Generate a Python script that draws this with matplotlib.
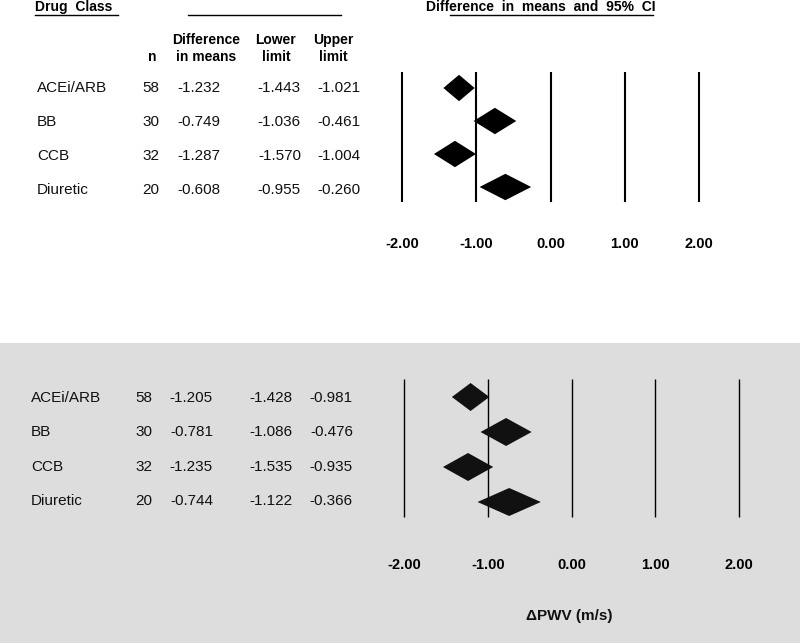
import numpy as np
import matplotlib
matplotlib.use("Agg")
import matplotlib.pyplot as plt
from matplotlib.lines import Line2D
from matplotlib.patches import Rectangle

plt.rcParams["font.family"] = ["Liberation Sans", "DejaVu Sans"]

# ===============================================
# DATA
# ===============================================
drug_class = ["ACEi/ARB", "BB", "CCB", "Diuretic"]
n_patients = [58, 30, 32, 20]

# top panel
top_mean = [-1.232, -0.749, -1.287, -0.608]
top_lower = [-1.443, -1.036, -1.570, -0.955]
top_upper = [-1.021, -0.461, -1.004, -0.260]

# bottom panel
bot_mean = [-1.205, -0.781, -1.235, -0.744]
bot_lower = [-1.428, -1.086, -1.535, -1.122]
bot_upper = [-0.981, -0.476, -0.935, -0.366]

ticks = [-2, -1, 0, 1, 2]
tick_labels = ["-2.00", "-1.00", "0.00", "1.00", "2.00"]

# ===============================================
# FIGURE
# ===============================================
W, H = 800, 643
fig = plt.figure(figsize=(W / 100, H / 100), dpi=100)
fig.patch.set_facecolor("white")


def fx(x):
    return x / W


def fy(y):
    return 1 - y / H


# gray lower panel
fig.add_artist(Rectangle((0, 0), 1, fy(343), transform=fig.transFigure,
                         facecolor="#dddddd", edgecolor="none", zorder=0))


def forest(left, right, top, bottom, row0, step, mean, lo, hi, lw, color, pad):
    ax = fig.add_axes([fx(left), fy(bottom), fx(right - left), (bottom - top) / H])
    ax.set_facecolor("none")
    y_top = -(row0 - top) / step
    y_bot = (bottom - row0) / step
    ax.set_xlim(-2, 2)
    ax.set_ylim(y_bot, y_top)
    ax.vlines(ticks, y_bot, y_top, color="black", lw=lw, clip_on=False)
    h = 0.4
    for i in range(len(mean)):
        ax.fill([lo[i], mean[i], hi[i], mean[i]], [i, i - h, i, i + h],
                color=color, lw=0, zorder=3)
    for s in ax.spines.values():
        s.set_visible(False)
    ax.set_yticks([])
    ax.set_xticks(ticks)
    ax.set_xticklabels(tick_labels, fontsize=10.5, fontweight="bold")
    ax.tick_params(axis="x", length=0, pad=pad)
    return ax


forest(402, 699, 72, 202, 88, 33, top_mean, top_lower, top_upper, 1.5, "black", 25.0)
forest(404, 739, 379, 517, 397, 35, bot_mean, bot_lower, bot_upper, 1.0, "#111111", 29.3)

# ===============================================
# HEADERS
# ===============================================
bold = dict(fontsize=10, fontweight="bold", color="black")
fig.text(fx(35), fy(11), "Drug  Class", ha="left", va="baseline", **bold)
fig.text(fx(541), fy(11), "Difference  in  means  and  95%  CI", ha="center", va="baseline", **bold)

for x0, x1 in [(35, 118), (188, 341), (450, 653)]:
    fig.add_artist(Line2D([fx(x0), fx(x1)], [fy(14.5), fy(14.5)], transform=fig.transFigure,
                          color="black", lw=1.0))

fig.text(fx(152), fy(61), "n", ha="center", va="baseline", **bold)
fig.text(fx(206), fy(44), "Difference", ha="center", va="baseline", **bold)
fig.text(fx(206), fy(61), "in means", ha="center", va="baseline", **bold)
fig.text(fx(276), fy(44), "Lower", ha="center", va="baseline", **bold)
fig.text(fx(276), fy(61), "limit", ha="center", va="baseline", **bold)
fig.text(fx(333), fy(44), "Upper", ha="center", va="baseline", **bold)
fig.text(fx(333), fy(61), "limit", ha="center", va="baseline", **bold)

# ===============================================
# TABLES
# ===============================================
def table(baselines, x_name, x_n, x_mean, x_lo, x_hi, mean, lo, hi):
    for i, yb in enumerate(baselines):
        kw = dict(fontsize=11, va="baseline", color="#111111")
        fig.text(fx(x_name), fy(yb), drug_class[i], ha="left", **kw)
        fig.text(fx(x_n), fy(yb), str(n_patients[i]), ha="right", **kw)
        fig.text(fx(x_mean), fy(yb), f"{mean[i]:.3f}", ha="right", **kw)
        fig.text(fx(x_lo), fy(yb), f"{lo[i]:.3f}", ha="right", **kw)
        fig.text(fx(x_hi), fy(yb), f"{hi[i]:.3f}", ha="right", **kw)


table([92.5, 126, 159.5, 193.5], 37, 159, 220, 301, 360, top_mean, top_lower, top_upper)
table([402, 436, 471, 505], 31, 152, 213, 293, 353, bot_mean, bot_lower, bot_upper)

fig.text(fx(569), fy(620), "\u0394PWV (m/s)", ha="center", va="baseline",
         fontsize=11, fontweight="bold", color="#111111")

fig.savefig("out.png", dpi=100, facecolor=fig.get_facecolor())
